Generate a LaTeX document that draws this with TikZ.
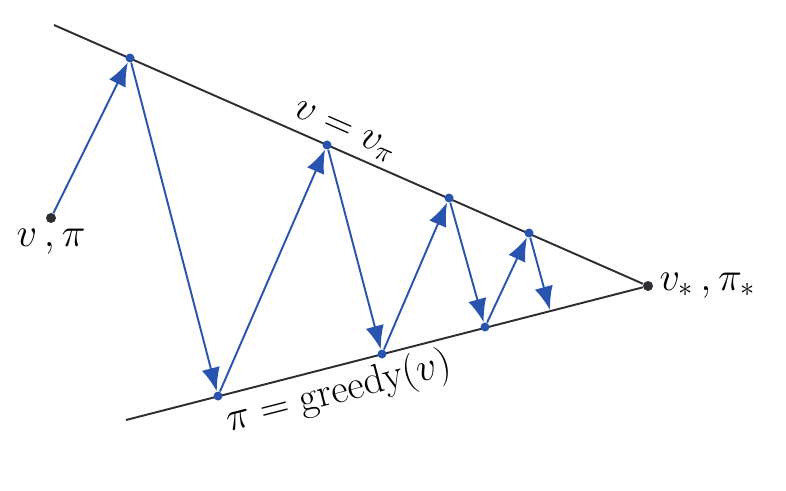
\RequirePackage{fix-cm}
\documentclass[tikz,border=0pt]{standalone}
\usepackage{amsmath}
\usepackage{tikz}
\usepackage{xcolor}
\usetikzlibrary{positioning, arrows.meta}

\definecolor{stepblue}{RGB}{40,84,176}
\definecolor{linegray}{RGB}{45,45,50}

\tikzset{
  pt/.style={circle, inner sep=0pt, minimum size=0.18cm, fill=stepblue},
  endpt/.style={circle, inner sep=0pt, minimum size=0.2cm, fill=linegray},
  move/.style={draw=stepblue, line width=1.1pt, -{Latex[length=0.47cm,width=0.37cm]}},
  bound/.style={draw=linegray, line width=1.1pt},
  lbl/.style={font=\fontsize{23}{27}\selectfont}
}

\begin{document}
\begin{tikzpicture}[x=0.02cm, y=-0.02cm]
            \useasboundingbox (0,0) rectangle (786,490);
            \coordinate (t) at (54,25);
            \coordinate (b) at (126,420);
            \node[endpt, label={[lbl]below:$v\,, \pi$}] (0) at (51,218) {};
            \node[endpt, label={[lbl]0:$v_*\,, \pi_*$}] (9) at (648,286) {};

            \draw[bound] (t) -- (9) node[pos=0.48, sloped, above, lbl] {$v = v_\pi$};
            \draw[bound] (b) -- (9) node[pos=0.40, sloped, below, lbl, inner sep=3pt] {$\pi = \mathrm{greedy}(v)$};

            \node[pt] (1) at (130,58) {};
            \node[pt] (2) at (218,396) {};
            \node[pt] (3) at (327,145) {};
            \node[pt] (4) at (382,354) {};
            \node[pt] (5) at (449,198) {};
            \node[pt] (6) at (485,327) {};
            \node[pt] (7) at (529,233) {};
            \coordinate (8) at (550,310);

            \draw[move] (0) -- (1);
            \draw[move] (1) -- (2);
            \draw[move] (2) -- (3);
            \draw[move] (3) -- (4);
            \draw[move] (4) -- (5);
            \draw[move] (5) -- (6);
            \draw[move] (6) -- (7);
            \draw[move] (7) -- (8);
        \end{tikzpicture}
\end{document}
